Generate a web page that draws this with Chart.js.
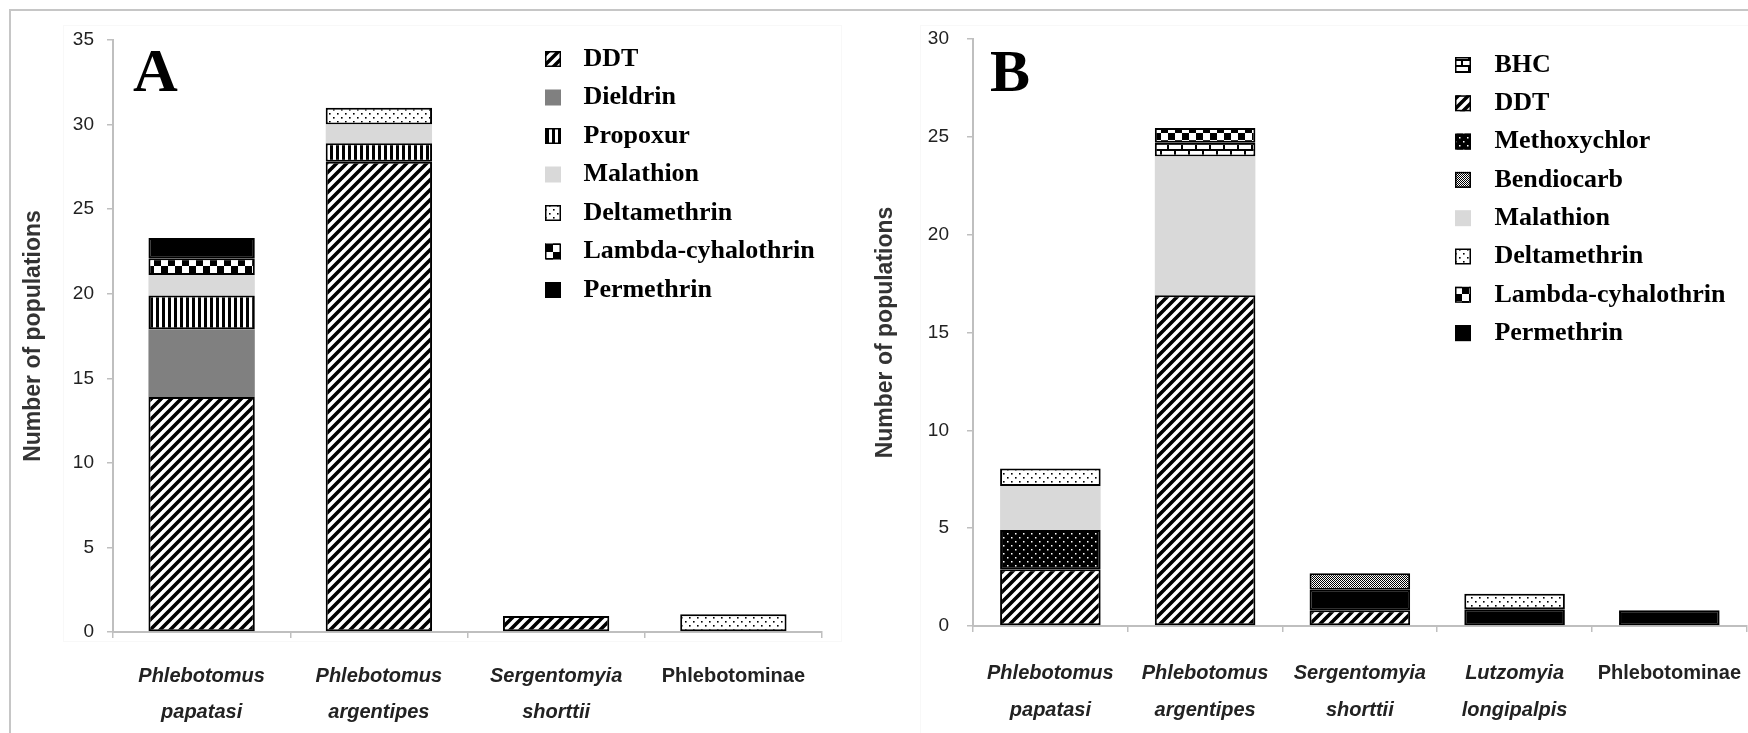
<!DOCTYPE html>
<html>
<head>
<meta charset="utf-8">
<title>Insecticide resistance in sand fly populations</title>
<script src="https://cdn.jsdelivr.net/npm/chart.js"></script>
<style>
  html, body { margin: 0; padding: 0; background: #fff; overflow: hidden; width: 1748px; height: 733px; }
  #frame { position: absolute; left: 9px; top: 9px; width: 1760px; height: 740px;
           border-top: 2px solid #c6c6c6; border-left: 2px solid #c6c6c6; }
  .plotbox { position: absolute; border: 1px solid #f8f8f8; }
  #chartA { position: absolute; left: 0; top: 0; }
  #chartB { position: absolute; left: 874px; top: 0; }
</style>
</head>
<body>
<div id="frame"></div>
<div class="plotbox" style="left:63px;top:25px;width:777px;height:615px"></div>
<div class="plotbox" style="left:920px;top:25px;width:900px;height:800px"></div>
<canvas id="chartA" width="874" height="733"></canvas>
<canvas id="chartB" width="890" height="733"></canvas>

<script>
// ---- Panel A ----
const categoriesA = [['Phlebotomus', 'papatasi'], ['Phlebotomus', 'argentipes'], ['Sergentomyia', 'shorttii'], 'Phlebotominae'];
const ddtA          = [13.9, 27.8, 0.95, null];
const dieldrinA     = [4, null, null, null];
const propoxurA     = [2, 1.1, null, null];
const malathionA    = [1.2, 1.1, null, null];
const deltamethrinA = [null, 1.0, null, 1.05];
const lambdaA       = [1, null, null, null];
const permethrinA   = [1.2, null, null, null];
const yTicksA = [0, 5, 10, 15, 20, 25, 30, 35];

// ---- Panel B ----
const categoriesB = [['Phlebotomus', 'papatasi'], ['Phlebotomus', 'argentipes'], ['Sergentomyia', 'shorttii'], ['Lutzomyia', 'longipalpis'], 'Phlebotominae'];
const bhcB          = [null, 0.7, null, null, null];
const ddtB          = [2.9, 16.9, 0.8, null, null];
const methoxychlorB = [2, null, null, null, null];
const bendiocarbB   = [null, null, 0.85, null, null];
const malathionB    = [2.25, 7.1, null, null, null];
const deltamethrinB = [0.9, null, null, 0.8, null];
const lambdaB       = [null, 0.75, null, null, null];
const permethrinB   = [null, null, 1.05, 0.85, 0.8];
const yTicksB = [0, 5, 10, 15, 20, 25, 30];

// fill patterns
function makePattern(w, h, paint) {
  const c = document.createElement('canvas');
  c.width = w; c.height = h;
  const g = c.getContext('2d');
  paint(g, w, h);
  return g.createPattern(c, 'repeat');
}

const hatch = makePattern(10, 10, (g, w, h) => {
  g.fillStyle = '#fff'; g.fillRect(0, 0, w, h);
  g.strokeStyle = '#000'; g.lineWidth = 3.6;
  g.beginPath();
  for (let k = -1; k <= 1; k++) {
    g.moveTo(k * w - 1, h + 1);
    g.lineTo(k * w + w + 1, -1);
  }
  g.stroke();
});
const vstripes = makePattern(6, 6, (g, w, h) => {
  g.fillStyle = '#fff'; g.fillRect(0, 0, w, h);
  g.fillStyle = '#000'; g.fillRect(0, 0, 3, h);
});
const checker = makePattern(14, 14, (g, w, h) => {
  g.fillStyle = '#000'; g.fillRect(0, 0, w, h);
  g.fillStyle = '#fff'; g.fillRect(0, 0, 7, 7); g.fillRect(7, 7, 7, 7);
});
const dots = makePattern(8, 8, (g, w, h) => {
  g.fillStyle = '#fff'; g.fillRect(0, 0, w, h);
  g.fillStyle = '#000'; g.fillRect(1, 1, 1.6, 1.6); g.fillRect(5, 5, 1.6, 1.6);
});
const darkDots = makePattern(8, 8, (g, w, h) => {
  g.fillStyle = '#000'; g.fillRect(0, 0, w, h);
  g.fillStyle = '#fff'; g.fillRect(1, 1, 1.5, 1.5); g.fillRect(5, 5, 1.5, 1.5);
});
const fineGrid = makePattern(2, 2, (g) => {
  g.fillStyle = '#fff'; g.fillRect(0, 0, 2, 2);
  g.fillStyle = '#000'; g.fillRect(0, 0, 1, 1); g.fillRect(1, 1, 1, 1);
});
const bricks = makePattern(14, 12, (g, w, h) => {
  g.fillStyle = '#000'; g.fillRect(0, 0, w, h);
  g.fillStyle = '#fff';
  g.fillRect(1, 1, 12, 4);
  g.fillRect(-6, 7, 12, 4); g.fillRect(8, 7, 12, 4);
});

function series(label, data, fill, border) {
  return { label, data, backgroundColor: fill, borderColor: '#000',
           borderWidth: border ? 2 : 0, borderSkipped: false };
}

const datasetsA = [
  series('DDT', ddtA, hatch, true),
  series('Dieldrin', dieldrinA, '#808080', false),
  series('Propoxur', propoxurA, vstripes, true),
  series('Malathion', malathionA, '#d9d9d9', false),
  series('Deltamethrin', deltamethrinA, dots, true),
  series('Lambda-cyhalothrin', lambdaA, checker, true),
  series('Permethrin', permethrinA, '#000', true)
];
// stacking order (bottom to top) differs from the legend order in B
const datasetsB = [
  series('DDT', ddtB, hatch, true),
  series('Methoxychlor', methoxychlorB, darkDots, true),
  series('Permethrin', permethrinB, '#000', true),
  series('Bendiocarb', bendiocarbB, fineGrid, true),
  series('Malathion', malathionB, '#d9d9d9', false),
  series('Deltamethrin', deltamethrinB, dots, true),
  series('BHC', bhcB, bricks, true),
  series('Lambda-cyhalothrin', lambdaB, checker, true)
];

// legend list and panel letter drawn inside the plot
const panelLegend = {
  id: 'panelLegend',
  afterDraw(chart, args, opts) {
    const ctx = chart.ctx;
    ctx.save();
    ctx.fillStyle = '#000';
    ctx.font = 'bold ' + opts.letterSize + 'px "Liberation Serif", "Times New Roman", serif';
    ctx.textBaseline = 'alphabetic';
    ctx.textAlign = 'left';
    ctx.fillText(opts.letter, opts.letterX, opts.letterY);

    ctx.font = 'bold 26px "Liberation Serif", "Times New Roman", serif';
    ctx.textBaseline = 'middle';
    opts.order.forEach((name, i) => {
      const ds = chart.data.datasets.find(d => d.label === name);
      const y = opts.y0 + i * opts.step;
      const s = 16;
      ctx.fillStyle = ds.backgroundColor;
      ctx.fillRect(opts.boxX, y - s / 2, s, s);
      if (ds.borderWidth > 0) {
        ctx.lineWidth = 1.5;
        ctx.strokeStyle = '#000';
        ctx.strokeRect(opts.boxX + 0.75, y - s / 2 + 0.75, s - 1.5, s - 1.5);
      }
      ctx.fillStyle = '#000';
      ctx.fillText(name, opts.textX, y);
    });
    ctx.restore();
  }
};

const axisGray = '#bfbfbf';
const sansFamily = '"Liberation Sans", Arial, sans-serif';

function buildChart(id, cfg) {
  return new Chart(document.getElementById(id), {
    type: 'bar',
    data: { labels: cfg.labels, datasets: cfg.datasets },
    options: {
      responsive: false,
      animation: false,
      layout: { padding: { top: cfg.top, right: cfg.right, left: 0, bottom: 0 } },
      datasets: { bar: { barPercentage: cfg.barPct, categoryPercentage: 1 } },
      plugins: {
        legend: { display: false },
        tooltip: { enabled: false },
        panelLegend: cfg.legend
      },
      scales: {
        x: {
          stacked: true,
          afterFit: (scale) => { scale.height = cfg.xHeight; },
          grid: { drawOnChartArea: false, drawTicks: true, tickLength: 6, color: axisGray, lineWidth: 1.5, offset: true },
          border: { display: true, color: axisGray, width: 2 },
          ticks: {
            autoSkip: false, maxRotation: 0, minRotation: 0,
            padding: cfg.xPad, color: '#222',
            font: (ctx) => ({
              family: sansFamily, size: 20, weight: 'bold',
              style: Array.isArray(cfg.labels[ctx.index]) ? 'italic' : 'normal',
              lineHeight: cfg.xLine
            })
          }
        },
        y: {
          stacked: true,
          min: 0,
          max: cfg.yTicks[cfg.yTicks.length - 1],
          afterFit: (scale) => { scale.width = cfg.yWidth; },
          afterBuildTicks: (scale) => { scale.ticks = cfg.yTicks.map(v => ({ value: v })); },
          grid: { drawOnChartArea: false, drawTicks: true, tickLength: 6, color: axisGray, lineWidth: 1.5 },
          border: { display: true, color: axisGray, width: 2 },
          ticks: { padding: cfg.yPad, color: '#222', font: { family: sansFamily, size: 19 } },
          title: {
            display: true, text: 'Number of populations', color: '#333',
            font: { family: sansFamily, size: 23, weight: 'bold', lineHeight: 1 },
            padding: { top: cfg.titlePad, bottom: 0 }
          }
        }
      }
    },
    plugins: [panelLegend]
  });
}

buildChart('chartA', {
  labels: categoriesA, datasets: datasetsA, yTicks: yTicksA,
  top: 40, right: 52, yWidth: 113, xHeight: 101, barPct: 0.6,
  xPad: 20, xLine: 1.825, yPad: 13, titlePad: 22.5,
  legend: {
    order: ['DDT', 'Dieldrin', 'Propoxur', 'Malathion', 'Deltamethrin', 'Lambda-cyhalothrin', 'Permethrin'],
    boxX: 545, textX: 583.5, y0: 59, step: 38.5,
    letter: 'A', letterX: 133, letterY: 91, letterSize: 62
  }
});

buildChart('chartB', {
  labels: categoriesB, datasets: datasetsB, yTicks: yTicksB,
  top: 39, right: 5, yWidth: 99, xHeight: 107, barPct: 0.65,
  xPad: 22.5, xLine: 1.85, yPad: 18, titlePad: 0.5,
  legend: {
    order: ['BHC', 'DDT', 'Methoxychlor', 'Bendiocarb', 'Malathion', 'Deltamethrin', 'Lambda-cyhalothrin', 'Permethrin'],
    boxX: 581, textX: 620.4, y0: 65, step: 38.3,
    letter: 'B', letterX: 116, letterY: 91, letterSize: 60
  }
});
</script>
</body>
</html>
